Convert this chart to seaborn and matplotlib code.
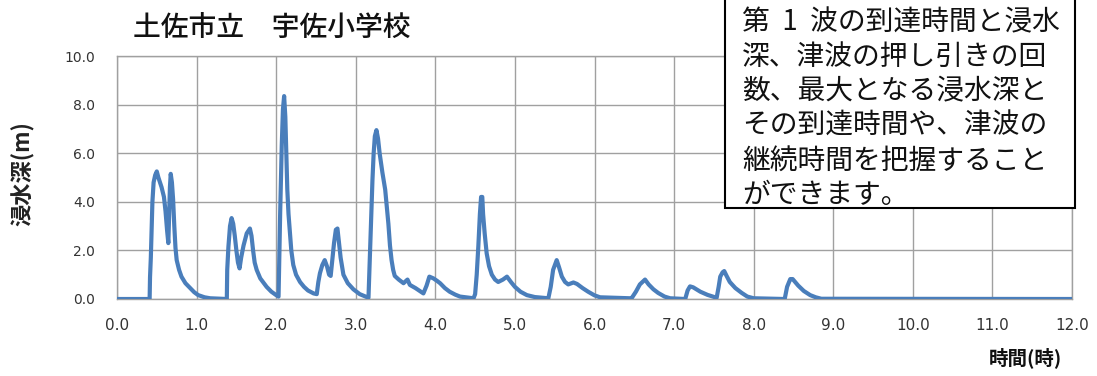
import matplotlib
matplotlib.use("Agg")
import matplotlib.pyplot as plt
import matplotlib.patches as mpatches
import seaborn as sns
import pandas as pd

# time (hours) and inundation depth (m)
hours = [
    0.0, 0.41, 0.415, 0.425, 0.435, 0.445, 0.46, 0.48, 0.50, 0.52, 0.56, 0.59,
    0.61, 0.63, 0.645, 0.655, 0.665, 0.675, 0.69, 0.705, 0.72, 0.735, 0.75, 0.78,
    0.81, 0.86, 0.92, 0.97, 1.02, 1.10, 1.17, 1.38,
    1.385, 1.40, 1.42, 1.44, 1.46, 1.48, 1.50, 1.52, 1.54, 1.56, 1.59, 1.63,
    1.67, 1.69, 1.71, 1.73, 1.755, 1.80, 1.88, 1.94, 2.0, 2.03,
    2.035, 2.05, 2.07, 2.085, 2.10, 2.115, 2.125, 2.14, 2.155, 2.17, 2.19, 2.215,
    2.25, 2.30, 2.35, 2.40, 2.47, 2.51, 2.53, 2.55, 2.58, 2.61, 2.64, 2.665,
    2.685, 2.705, 2.727, 2.75, 2.77, 2.79, 2.81, 2.845, 2.90, 2.97, 3.05, 3.16,
    3.175, 3.19, 3.21, 3.225, 3.24, 3.26, 3.28, 3.30, 3.335, 3.37, 3.39, 3.41,
    3.43, 3.45, 3.47, 3.49, 3.54, 3.60, 3.65, 3.68, 3.75, 3.85, 3.89, 3.925,
    3.975, 4.02, 4.06, 4.12, 4.18, 4.25, 4.31, 4.48,
    4.50, 4.52, 4.54, 4.56, 4.575, 4.59, 4.60, 4.62, 4.645, 4.675, 4.71, 4.75,
    4.79, 4.85, 4.90, 4.95, 5.0, 5.07, 5.15, 5.25, 5.42,
    5.45, 5.48, 5.525, 5.555, 5.59, 5.63, 5.67, 5.735, 5.78, 5.85, 5.92, 6.0,
    6.07, 6.45,
    6.47, 6.52, 6.57, 6.635, 6.68, 6.74, 6.80, 6.88, 6.95, 7.14,
    7.17, 7.20, 7.24, 7.33, 7.42, 7.535,
    7.56, 7.58, 7.61, 7.63, 7.66, 7.70, 7.77, 7.85, 7.92, 8.0, 8.39,
    8.42, 8.46, 8.49, 8.56, 8.63, 8.71, 8.78, 8.85, 12.0,
]
depth = [
    0.0, 0.0, 0.9, 1.7, 2.85, 4.0, 4.8, 5.1, 5.25, 5.0, 4.6, 4.2,
    3.6, 2.8, 2.3, 3.4, 4.6, 5.15, 4.8, 4.1, 3.0, 2.1, 1.6, 1.2,
    0.92, 0.65, 0.45, 0.28, 0.16, 0.07, 0.03, 0.0,
    1.2, 2.15, 3.0, 3.33, 3.1, 2.6, 2.0, 1.5, 1.26, 1.7, 2.2, 2.7,
    2.9, 2.6, 2.0, 1.5, 1.2, 0.85, 0.5, 0.3, 0.16, 0.1,
    1.0, 3.5, 6.3, 7.8, 8.35, 7.5, 6.3, 4.5, 3.5, 2.85, 2.0, 1.4,
    1.0, 0.7, 0.5, 0.35, 0.23, 0.2, 0.7, 1.06, 1.4, 1.6, 1.33, 1.0,
    0.95, 1.6, 2.3, 2.85, 2.9, 2.3, 1.7, 1.0, 0.65, 0.4, 0.2, 0.05,
    1.5, 3.0, 4.9, 6.0, 6.7, 6.95, 6.6, 6.0, 5.2, 4.5, 3.8, 3.1,
    2.2, 1.6, 1.2, 0.95, 0.8, 0.65, 0.8, 0.58, 0.45, 0.23, 0.55, 0.92,
    0.85, 0.75, 0.65, 0.45, 0.3, 0.18, 0.1, 0.03,
    0.2, 1.0, 2.15, 3.5, 4.2, 4.2, 3.5, 2.7, 1.88, 1.35, 1.0, 0.8,
    0.7, 0.8, 0.92, 0.7, 0.5, 0.3, 0.16, 0.08, 0.03,
    0.5, 1.2, 1.6, 1.3, 0.92, 0.7, 0.6, 0.68, 0.62, 0.45, 0.3, 0.15,
    0.07, 0.03,
    0.05, 0.3, 0.6, 0.8, 0.6, 0.4, 0.25, 0.1, 0.03, 0.0,
    0.35, 0.52, 0.48, 0.3, 0.17, 0.05,
    0.5, 0.92, 1.1, 1.15, 0.95, 0.7, 0.45, 0.25, 0.1, 0.03, 0.0,
    0.5, 0.82, 0.82, 0.55, 0.33, 0.16, 0.07, 0.01, 0.0,
]

x_ticks = [float(i) for i in range(13)]
y_ticks = [0.0, 2.0, 4.0, 6.0, 8.0, 10.0]

title = "土佐市立\u3000宇佐小学校"
note = ("第  1  波の到達時間と浸水\n深、津波の押し引きの回\n数、最大となる浸水深と\n"
        "その到達時間や、津波の\n継続時間を把握すること\nができます。")

sns.set_theme(style="whitegrid")
plt.rcParams["font.family"] = ["Noto Sans CJK JP", "DejaVu Sans"]

W, H = 1097, 376
fig = plt.figure(figsize=(W / 100, H / 100), dpi=100)
ax = fig.add_axes([117 / W, 1 - 299 / H, (1072 - 117) / W, (299 - 56) / H])

df = pd.DataFrame({"hours": hours, "depth": depth})
sns.lineplot(data=df, x="hours", y="depth", ax=ax, color="#4a7ebb",
             linewidth=3.0, estimator=None, sort=False, zorder=3,
             solid_joinstyle="round")

ax.set_xlim(0, 12)
ax.set_ylim(0, 10)
ax.set_xticks(x_ticks)
ax.set_yticks(y_ticks)
ax.set_xticklabels([f"{v:.1f}" for v in x_ticks],
                   family=["Liberation Sans Narrow", "DejaVu Sans"], fontsize=11)
ax.set_yticklabels([f"{v:.1f}" for v in y_ticks], family=["DejaVu Sans"], fontsize=10)
ax.tick_params(axis="both", colors="#333333", length=0)
ax.tick_params(axis="x", pad=14)
ax.tick_params(axis="y", pad=16)
ax.grid(True, color="#a0a0a0", linewidth=1.0)
ax.set_facecolor("white")
for s in ax.spines.values():
    s.set_color("#a0a0a0")
    s.set_linewidth(1.0)
ax.set_xlabel("")
ax.set_ylabel("")

fig.text(23 / W, 1 - 174 / H, "浸水深(m)", rotation=90, ha="center", va="center",
         fontsize=16, fontweight="bold", color="#222222")
fig.text(1062 / W, 1 - 358 / H, "時間(時)", ha="right", va="center",
         fontsize=14, fontweight="bold", color="#111111")
fig.text(133 / W, 1 - 28 / H, title, ha="left", va="center",
         fontsize=20, fontweight="medium", color="#111111")

box = mpatches.Rectangle((725 / W, 1 - 208 / H), 350 / W, 220 / H,
                         transform=fig.transFigure, facecolor="white",
                         edgecolor="black", linewidth=1.5, zorder=5)
fig.patches.append(box)
fig.text(742 / W, 1 - 7 / H, note, ha="left", va="top", fontsize=20,
         linespacing=1.2, color="#111111", zorder=6)

fig.savefig("out.png", dpi=100)
